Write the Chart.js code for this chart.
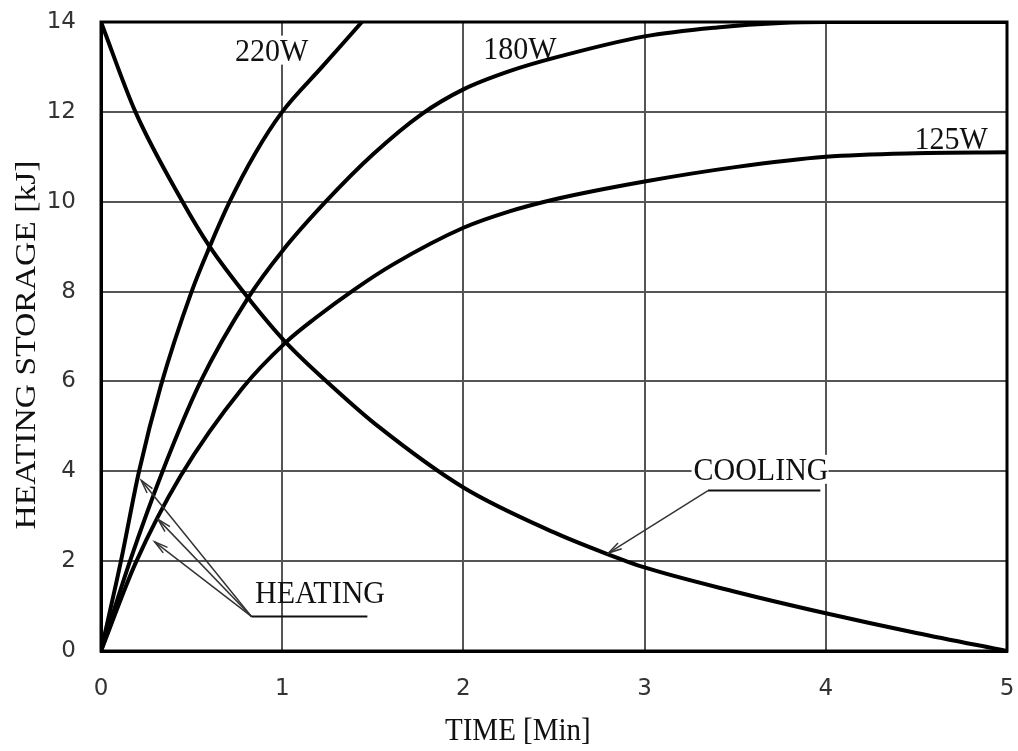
<!DOCTYPE html>
<html>
<head>
<meta charset="utf-8">
<title>Heating storage</title>
<script src="https://cdn.jsdelivr.net/npm/chart.js@4.4.1/dist/chart.umd.min.js"></script>
<style>
  html, body { margin: 0; padding: 0; background: #fff; }
</style>
</head>
<body>
<canvas id="storageChart" width="1018" height="751"></canvas>
<script>
// Trục và nhãn trục
const xTicks = [0, 1, 2, 3, 4, 5];
const yTicks = [0, 2, 4, 6, 8, 10, 12, 14];

// Đường gia nhiệt 220W
const time220 = [0, 0.11, 0.21, 0.33, 0.5, 0.6, 0.71, 0.85, 1.0, 1.22, 1.44];
const heat220 = [0, 2, 4, 5.9, 8, 9, 10, 11.07, 12, 13, 14];

// Đường gia nhiệt 180W
const time180 = [0, 0.16, 0.34, 0.55, 0.81, 1.0, 1.24, 1.5, 1.77, 2.0, 2.25, 2.5, 3.0, 3.4, 3.75, 4.0, 5.0];
const heat180 = [0, 2, 4, 6, 7.85, 8.9, 10, 11.05, 11.95, 12.5, 12.9, 13.2, 13.68, 13.88, 13.98, 14, 14];

// Đường gia nhiệt 125W
const time125 = [0, 0.19, 0.44, 0.78, 1.02, 1.18, 1.4, 1.61, 2.0, 2.25, 2.5, 3.0, 3.5, 4.0, 4.5, 5.0];
const heat125 = [0, 1.95, 3.9, 5.85, 6.87, 7.4, 8.05, 8.6, 9.42, 9.78, 10.05, 10.45, 10.77, 11.0, 11.08, 11.1];

// Đường làm nguội
const timeCool = [0, 0.19, 0.45, 0.6, 0.81, 1.02, 1.3, 1.53, 2.0, 2.5, 2.78, 3.0, 3.5, 4.0, 4.5, 5.0];
const heatCool = [14, 12, 10, 9.0, 7.87, 6.87, 5.8, 5.0, 3.64, 2.64, 2.18, 1.86, 1.32, 0.84, 0.4, 0];

// Chữ chú thích trong vùng vẽ (toạ độ theo dữ liệu)
const plotLabels = [
  { text: '220W', x: 0.74, y: 13.14, box: true },
  { text: '180W', x: 2.11, y: 13.18 },
  { text: '125W', x: 4.49, y: 11.17 },
  { text: 'HEATING', x: 0.85, y: 1.06 },
  { text: 'COOLING', x: 3.27, y: 3.81, box: true }
];

// Mũi tên chỉ dẫn
const heatingArrowFrom = { x: 0.83, y: 0.77 };
const heatingArrowTips = [{ x: 0.222, y: 3.8 }, { x: 0.315, y: 2.93 }, { x: 0.296, y: 2.43 }];
const heatingUnderlineEnd = 1.47;
const coolingArrowFrom = { x: 3.35, y: 3.57 };
const coolingArrowTip = { x: 2.80, y: 2.18 };
const coolingUnderlineEnd = 3.97;

const SERIF = '"Liberation Serif", "Times New Roman", serif';

function toPoints(xs, ys) {
  return xs.map((x, i) => ({ x: x, y: ys[i] }));
}

function curve(label, xs, ys) {
  return {
    label: label,
    data: toPoints(xs, ys),
    showLine: true,
    borderColor: '#000',
    borderWidth: 4,
    pointRadius: 0,
    cubicInterpolationMode: 'monotone',
    fill: false
  };
}

// Vẽ chữ kéo giãn theo chiều dọc giống bản gốc
function stretchedText(ctx, text, x, y, sy) {
  ctx.save();
  ctx.translate(x, y);
  ctx.scale(1, sy);
  ctx.fillText(text, 0, 0);
  ctx.restore();
}

function arrow(ctx, x0, y0, x1, y1) {
  ctx.beginPath();
  ctx.moveTo(x0, y0);
  ctx.lineTo(x1, y1);
  ctx.stroke();
  const a = Math.atan2(y1 - y0, x1 - x0);
  const len = 14, spread = 0.25;
  ctx.beginPath();
  ctx.moveTo(x1 - len * Math.cos(a - spread), y1 - len * Math.sin(a - spread));
  ctx.lineTo(x1, y1);
  ctx.lineTo(x1 - len * Math.cos(a + spread), y1 - len * Math.sin(a + spread));
  ctx.stroke();
}

const annotationPlugin = {
  id: 'annotations',
  beforeDatasetsDraw(chart) {
    const { ctx, scales: { x, y } } = chart;
    ctx.save();
    ctx.font = '30px ' + SERIF;
    ctx.textAlign = 'left';
    ctx.textBaseline = 'alphabetic';
    plotLabels.forEach(l => {
      const px = x.getPixelForValue(l.x);
      const py = y.getPixelForValue(l.y);
      if (l.box) {
        const w = ctx.measureText(l.text).width;
        ctx.fillStyle = '#fff';
        ctx.fillRect(px - 2, py - 25, w + 2, 29);
      }
      ctx.fillStyle = '#111';
      stretchedText(ctx, l.text, px, py, 1.08);
    });
    ctx.restore();
  },
  afterDatasetsDraw(chart) {
    const { ctx, chartArea: area, scales: { x, y } } = chart;
    ctx.save();

    // Mũi tên HEATING
    const hx = x.getPixelForValue(heatingArrowFrom.x);
    const hy = y.getPixelForValue(heatingArrowFrom.y);
    ctx.strokeStyle = '#333';
    ctx.lineWidth = 1.5;
    heatingArrowTips.forEach(t => arrow(ctx, hx, hy, x.getPixelForValue(t.x), y.getPixelForValue(t.y)));
    ctx.strokeStyle = '#111';
    ctx.lineWidth = 2;
    ctx.beginPath();
    ctx.moveTo(hx, hy);
    ctx.lineTo(x.getPixelForValue(heatingUnderlineEnd), hy);
    ctx.stroke();

    // Mũi tên COOLING
    const cx = x.getPixelForValue(coolingArrowFrom.x);
    const cy = y.getPixelForValue(coolingArrowFrom.y);
    ctx.strokeStyle = '#333';
    ctx.lineWidth = 1.5;
    arrow(ctx, cx, cy, x.getPixelForValue(coolingArrowTip.x), y.getPixelForValue(coolingArrowTip.y));
    ctx.strokeStyle = '#111';
    ctx.lineWidth = 2;
    ctx.beginPath();
    ctx.moveTo(cx, cy);
    ctx.lineTo(x.getPixelForValue(coolingUnderlineEnd), cy);
    ctx.stroke();

    // Khung đen bao quanh vùng vẽ
    ctx.strokeStyle = '#000';
    ctx.lineWidth = 3;
    ctx.strokeRect(area.left, area.top, area.right - area.left, area.bottom - area.top);

    // Tên trục
    ctx.fillStyle = '#111';
    ctx.font = '29px ' + SERIF;
    ctx.textAlign = 'left';
    stretchedText(ctx, 'TIME [Min]', 445, 740, 1.1);

    ctx.save();
    ctx.translate(35, 345);
    ctx.rotate(-Math.PI / 2);
    ctx.scale(1.12, 1);
    ctx.textAlign = 'center';
    ctx.font = '30px ' + SERIF;
    ctx.fillText('HEATING STORAGE [kJ]', 0, 0);
    ctx.restore();

    ctx.restore();
  }
};

const tickFont = { family: '"DejaVu Sans", sans-serif', size: 23 };

new Chart(document.getElementById('storageChart'), {
  type: 'scatter',
  data: {
    datasets: [
      curve('220W', time220, heat220),
      curve('180W', time180, heat180),
      curve('125W', time125, heat125),
      curve('COOLING', timeCool, heatCool)
    ]
  },
  options: {
    responsive: false,
    animation: false,
    layout: { padding: { top: 22, right: 11, left: 0, bottom: 0 } },
    plugins: {
      legend: { display: false },
      tooltip: { enabled: false }
    },
    scales: {
      x: {
        type: 'linear',
        min: 0,
        max: 5,
        afterBuildTicks: s => { s.ticks = xTicks.map(v => ({ value: v })); },
        afterFit: s => { s.height = 100; s.paddingLeft = 0; s.paddingRight = 0; },
        ticks: { font: tickFont, color: '#333', padding: 24 },
        grid: { color: '#555', lineWidth: 2, drawTicks: false },
        border: { color: '#000', width: 3 }
      },
      y: {
        type: 'linear',
        min: 0,
        max: 14,
        afterBuildTicks: s => { s.ticks = yTicks.map(v => ({ value: v })); },
        afterFit: s => { s.width = 101; s.paddingTop = 0; s.paddingBottom = 0; },
        ticks: { font: tickFont, color: '#333', padding: 25 },
        grid: { color: '#555', lineWidth: 2, drawTicks: false },
        border: { color: '#000', width: 3 }
      }
    }
  },
  plugins: [annotationPlugin]
});
</script>
</body>
</html>
